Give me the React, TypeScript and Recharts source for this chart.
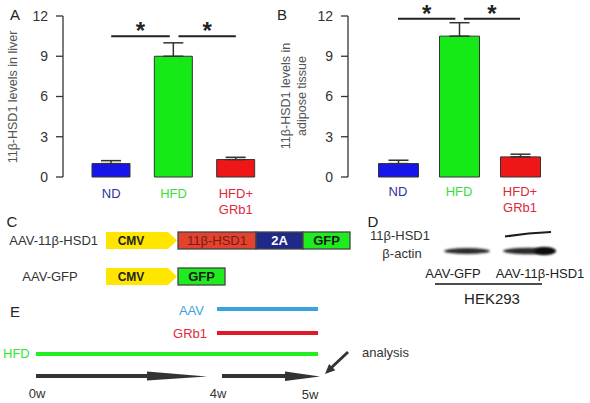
import React from 'react';
import {
  BarChart,
  Bar,
  XAxis,
  YAxis,
  ErrorBar,
  Cell,
  ReferenceLine,
  ReferenceDot,
  Customized,
  Surface,
} from 'recharts';

// ---------- data ----------
const categories = ['ND', 'HFD', 'HFD+GRb1'];
const categoryLines = [['ND'], ['HFD'], ['HFD+', 'GRb1']];
const liverMean = [1.0, 9.0, 1.3];
const liverErr = [0.22, 1.0, 0.17];
const adiposeMean = [1.0, 10.5, 1.5];
const adiposeErr = [0.25, 1.0, 0.2];
const yTicks = [0, 3, 6, 9, 12];
const sigPairs = [
  [1, 2],
  [2, 3],
];
const liverSigLevel = 10.5;
const adiposeSigLevel = 11.8;

const liverLabel = ['11β-HSD1 levels in liver'];
const adiposeLabel = ['11β-HSD1 levels in', 'adipose tissue'];

const constructRows = [
  { name: 'AAV-11β-HSD1', parts: ['11β-HSD1', '2A', 'GFP'] },
  { name: 'AAV-GFP', parts: ['GFP'] },
];
const blotRows = ['11β-HSD1', 'β-actin'];
const blotLanes = ['AAV-GFP', 'AAV-11β-HSD1'];
const blotCell = 'HEK293';
const timelineRows = ['AAV', 'GRb1', 'HFD'];
const timelineTicks = ['0w', '4w', '5w'];
const analysisLabel = 'analysis';

// ---------- styles ----------
const FONT = '"Liberation Sans", Arial, Helvetica, sans-serif';
const barColors = ['#1616ea', '#16ea16', '#ee1616'];
const labelColors = ['#30309c', '#3cdc3c', '#e0283c'];
const partColors: Record<string, string> = {
  '11β-HSD1': '#e2432f',
  '2A': '#1f2a88',
  GFP: '#1fec1f',
};
const partText: Record<string, string> = {
  '11β-HSD1': '#7a1a14',
  '2A': '#ffffff',
  GFP: '#1a1a1a',
};
const timelineColors = ['#3aa2dc', '#e0182a', '#22ee22'];
const timelineLabelColors = ['#3ba3dc', '#e02a3c', '#33e633'];

function buildData(mean: number[], err: number[]) {
  return categories.map((c, i) => ({ x: i + 1, name: c, value: mean[i], err: [0, err[i]] }));
}

function makeTick(b1: number, b2: number) {
  return (props: any) => {
    const { x, payload } = props;
    const i = Math.round(payload.value) - 1;
    const lines = categoryLines[i] || [];
    return (
      <g>
        {lines.map((l, k) => (
          <text
            key={k}
            x={x}
            y={k === 0 ? b1 : b2}
            textAnchor="middle"
            fontSize={13}
            fill={labelColors[i]}
            fontFamily={FONT}
          >
            {l}
          </text>
        ))}
      </g>
    );
  };
}

type PanelProps = {
  mean: number[];
  err: number[];
  sigLevel: number;
  width: number;
  marginLeft: number;
  marginRight: number;
  padLeft: number;
  padRight: number;
  barSize: number;
  base1: number;
  base2: number;
  labelLines: string[];
  labelX: number[];
  labelY: number;
};

function Panel(p: PanelProps) {
  const data = buildData(p.mean, p.err);
  return (
    <BarChart
      width={p.width}
      height={230}
      data={data}
      margin={{ top: 16, right: p.marginRight, bottom: 8, left: p.marginLeft }}
    >
      <XAxis
        type="number"
        dataKey="x"
        domain={[0.5, 3.5]}
        ticks={[1, 2, 3]}
        padding={{ left: p.padLeft, right: p.padRight }}
        axisLine={false}
        tickLine={false}
        height={45}
        interval={0}
        tick={makeTick(p.base1, p.base2)}
      />
      <YAxis
        type="number"
        domain={[0, 12]}
        ticks={yTicks}
        width={50}
        tickSize={7}
        tickMargin={8}
        axisLine={{ stroke: '#333', strokeWidth: 1.3 }}
        tickLine={{ stroke: '#333', strokeWidth: 1.3 }}
        tick={{ fontSize: 14, fill: '#333', fontFamily: FONT }}
        interval={0}
      />
      <Bar dataKey="value" barSize={p.barSize} stroke="#333" strokeWidth={1} isAnimationActive={false}>
        {data.map((d, i) => (
          <Cell key={d.name} fill={barColors[i]} />
        ))}
        <ErrorBar
          dataKey="err"
          direction="y"
          width={10}
          stroke="#333"
          strokeWidth={1.5}
          isAnimationActive={false}
        />
      </Bar>
      {sigPairs.map((pair, i) => (
        <ReferenceLine
          key={'l' + i}
          segment={[
            { x: pair[0] + (i > 0 ? 0.08 : 0), y: p.sigLevel },
            { x: pair[1] - (i === 0 ? 0.06 : 0), y: p.sigLevel },
          ]}
          stroke="#222"
          strokeWidth={2}
          ifOverflow="visible"
        />
      ))}
      {sigPairs.map((pair, i) => (
        <ReferenceDot
          key={'s' + i}
          x={(pair[0] + pair[1]) / 2 + (i > 0 ? 0.04 : -0.03)}
          y={p.sigLevel}
          r={0}
          ifOverflow="visible"
          shape={(sp: any) => (
            <text
              x={sp.cx}
              y={sp.cy + 3}
              textAnchor="middle"
              fontSize={24}
              fontWeight="bold"
              fill="#222"
              fontFamily={FONT}
            >
              *
            </text>
          )}
        />
      ))}
      <Customized
        component={() => (
          <g>
            {p.labelLines.map((l, k) => (
              <text
                key={k}
                x={p.labelX[k]}
                y={p.labelY}
                transform={`rotate(-90 ${p.labelX[k]} ${p.labelY})`}
                textAnchor="middle"
                dominantBaseline="central"
                fontSize={12.5}
                fill="#555"
                fontFamily={FONT}
              >
                {l}
              </text>
            ))}
          </g>
        )}
      />
    </BarChart>
  );
}

function Diagram() {
  const t = (x: number, y: number, s: string, opts: any = {}) => (
    <text
      x={x}
      y={y}
      dominantBaseline="central"
      fontFamily={FONT}
      fontSize={13}
      fill="#333"
      {...opts}
    >
      {s}
    </text>
  );
  const cmv = (y0: number, y1: number) => {
    const ym = (y0 + y1) / 2;
    return (
      <g>
        <polygon points={`106,${y0} 168,${y0} 177,${ym} 168,${y1} 106,${y1}`} fill="#ffe600" />
        {t(131, ym, 'CMV', { textAnchor: 'middle', fontWeight: 'bold', fontSize: 12, fill: '#222' })}
      </g>
    );
  };
  const partWidths: Record<string, number> = { '11β-HSD1': 78, '2A': 47, GFP: 47 };
  const rowsY = [
    [232, 249],
    [268, 285],
  ];
  return (
    <Surface width={590} height={403} style={{ position: 'absolute', left: 0, top: 0 }}>
      <defs>
        <filter id="blur1" x="-20%" y="-100%" width="140%" height="300%">
          <feGaussianBlur stdDeviation="1.1" />
        </filter>
        <filter id="blur2" x="-20%" y="-200%" width="140%" height="500%">
          <feGaussianBlur stdDeviation="0.6" />
        </filter>
      </defs>
      {/* panel letters */}
      {t(15, 14, 'A', { fontSize: 15, textAnchor: 'middle', fill: '#222' })}
      {t(282, 14, 'B', { fontSize: 15, textAnchor: 'middle', fill: '#222' })}
      {t(12, 221, 'C', { fontSize: 15, textAnchor: 'middle', fill: '#222' })}
      {t(373, 221, 'D', { fontSize: 15, textAnchor: 'middle', fill: '#222' })}
      {t(15, 311, 'E', { fontSize: 15, textAnchor: 'middle', fill: '#222' })}

      {/* C: constructs */}
      {constructRows.map((row, r) => {
        const [y0, y1] = rowsY[r];
        const ym = (y0 + y1) / 2;
        let x = 178;
        const boxes = row.parts.map((part, k) => {
          const w = partWidths[part];
          const el = (
            <g key={k}>
              <rect x={x} y={y0} width={w} height={y1 - y0} fill={partColors[part]} stroke="#444" strokeWidth={1.3} />
              {t(x + w / 2, ym, part, {
                textAnchor: 'middle',
                fill: partText[part],
                fontWeight: part === '11β-HSD1' ? 'normal' : 'bold',
                fontSize: 13,
              })}
            </g>
          );
          x += w;
          return el;
        });
        return (
          <g key={r}>
            {r === 0
              ? t(98, ym, row.name, { textAnchor: 'end' })
              : t(50, ym, row.name, { textAnchor: 'middle' })}
            {cmv(y0, y1)}
            {boxes}
          </g>
        );
      })}

      {/* D: western blot */}
      {t(400, 235, blotRows[0], { textAnchor: 'middle' })}
      {t(402, 253, blotRows[1], { textAnchor: 'middle' })}
      <path d="M505,236.5 Q528,233 551,232" stroke="#1a1a1a" strokeWidth={2.2} fill="none" filter="url(#blur2)" />
      <ellipse cx={467} cy={251} rx={23} ry={3} fill="#2a2a2a" filter="url(#blur1)" />
      <ellipse cx={529} cy={251} rx={26} ry={3.2} fill="#2a2a2a" filter="url(#blur1)" />
      <ellipse cx={545} cy={251} rx={11} ry={4} fill="#111" filter="url(#blur1)" />
      {t(453, 273, blotLanes[0], { textAnchor: 'middle', fill: '#222' })}
      {t(540, 273, blotLanes[1], { textAnchor: 'middle', fill: '#222' })}
      <line x1={435} y1={284} x2={542} y2={284} stroke="#111" strokeWidth={1.3} />
      {t(492, 298, blotCell, { textAnchor: 'middle', fontSize: 15, fill: '#222' })}

      {/* E: timeline */}
      {t(204, 310, timelineRows[0], { textAnchor: 'end', fill: timelineLabelColors[0] })}
      <line x1={217} y1={309} x2={318} y2={309} stroke={timelineColors[0]} strokeWidth={4} />
      {t(207, 333, timelineRows[1], { textAnchor: 'end', fill: timelineLabelColors[1] })}
      <line x1={217} y1={333} x2={318} y2={333} stroke={timelineColors[1]} strokeWidth={4} />
      {t(3, 353, timelineRows[2], { textAnchor: 'start', fill: timelineLabelColors[2] })}
      <line x1={36} y1={354} x2={318} y2={354} stroke={timelineColors[2]} strokeWidth={4} />

      <line x1={36} y1={376} x2={150} y2={376} stroke="#333" strokeWidth={4} />
      <polygon points="147,371.5 207,376.5 147,380.5" fill="#333" />
      <line x1={222} y1={376} x2={288} y2={376} stroke="#333" strokeWidth={4} />
      <polygon points="285,371.5 320,376.5 285,381" fill="#333" />

      <line x1={348} y1={352} x2={331} y2={368} stroke="#333" strokeWidth={3} />
      <polygon points="325,374 335.3,370.3 329.1,363.9" fill="#333" />
      {t(362, 352, analysisLabel, { textAnchor: 'start' })}

      {t(37, 393, timelineTicks[0], { textAnchor: 'middle' })}
      {t(218, 393, timelineTicks[1], { textAnchor: 'middle' })}
      {t(310, 394, timelineTicks[2], { textAnchor: 'middle' })}
    </Surface>
  );
}

export default function App() {
  return (
    <div
      style={{
        position: 'absolute',
        left: 0,
        top: 0,
        width: 590,
        height: 403,
        background: '#fff',
        overflow: 'hidden',
        fontFamily: FONT,
      }}
    >
      <div style={{ position: 'absolute', left: 0, top: 0 }}>
        <Panel
          mean={liverMean}
          err={liverErr}
          sigLevel={liverSigLevel}
          width={295}
          marginLeft={13}
          marginRight={20}
          padLeft={17}
          padRight={8}
          barSize={38}
          base1={198}
          base2={214}
          labelLines={liverLabel}
          labelX={[13]}
          labelY={97}
        />
      </div>
      <div style={{ position: 'absolute', left: 270, top: 0 }}>
        <Panel
          mean={adiposeMean}
          err={adiposeErr}
          sigLevel={adiposeSigLevel}
          width={320}
          marginLeft={28}
          marginRight={30}
          padLeft={19.5}
          padRight={9.5}
          barSize={40}
          base1={195.5}
          base2={211.5}
          labelLines={adiposeLabel}
          labelX={[16, 32]}
          labelY={96}
        />
      </div>
      <Diagram />
    </div>
  );
}
